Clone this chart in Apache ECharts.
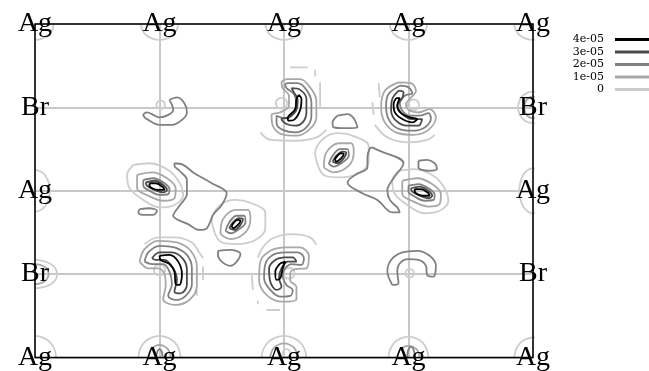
<!DOCTYPE html>
<html><head><meta charset="utf-8">
<script src="https://cdn.jsdelivr.net/npm/echarts@6/dist/echarts.min.js"></script>
<style>html,body{margin:0;padding:0;background:#fff}#c{width:649px;height:371px}</style>
</head><body><div id="c"></div>
<script>
// contour levels (legend order) and their grey tones
const levels = ['4e-05', '3e-05', '2e-05', '1e-05', '0'];
const levelColors = ['#000000', '#4a4a4a', '#808080', '#a8a8a8', '#cdcdcd'];

// atom sites on the lattice grid: [name, x, y]
const atomSites = [
  ['Ag',0,4],['Ag',1,4],['Ag',2,4],['Ag',3,4],['Ag',4,4],
  ['Br',0,3],['Br',4,3],['Ag',0,2],['Ag',4,2],['Br',0,1],['Br',4,1],
  ['Ag',0,0],['Ag',1,0],['Ag',2,0],['Ag',3,0],['Ag',4,0]
];

// unit ring template used for the near-circular contours around atoms
const unitRing = [[1,0],[0.92,0.38],[0.71,0.71],[0.38,0.92],[0,1],[-0.38,0.92],[-0.71,0.71],[-0.92,0.38],[-1,0],[-0.92,-0.38],[-0.71,-0.71],[-0.38,-0.92],[0,-1],[0.38,-0.92],[0.71,-0.71],[0.92,-0.38],[1,0]];
// rings: [cx, cy, rx, ry]
const rings0 = [
  [0,4,.15,.19],[1,4,.15,.19],[2,4,.15,.19],[3,4,.15,.19],[4,4,.15,.19],
  [0,0,.17,.26],[1,0,.17,.26],[2,0,.18,.26],[3,0,.16,.25],[4,0,.15,.24],
  [0,2,.12,.25],[4,2,.11,.27],[0,1,.18,.17],[4,3,.12,.19],
  [1.98,3.05,.045,.065],[3.04,3.03,.045,.065],[1.00,1.05,.045,.065],[2.04,1.01,.045,.065],
  [1.01,3.03,.035,.05],[3.01,1.01,.035,.05],[2.02,0.05,.03,.05]
];
const rings1 = [[1,0,.09,.15],[2,0,.11,.17],[3,0,.09,.14],[0,1,.11,.12],[4,3,.07,.13]];
const rings2 = [[1.0,0,.025,.1],[3.02,0,.03,.13]];

// bond ellipses (E1 copied to E4, E2 copied to E3)
const ellipseA = {
  '0':    [[0.79,2.31],[0.92,2.33],[1.07,2.25],[1.16,2.10],[1.19,1.95],[1.12,1.83],[1.00,1.80],[0.87,1.89],[0.76,2.03],[0.74,2.19],[0.79,2.31]],
  '1e-05':[[0.82,2.19],[0.94,2.22],[1.06,2.15],[1.13,2.03],[1.12,1.91],[1.03,1.88],[0.91,1.94],[0.82,2.03],[0.82,2.19]],
  '2e-05':[[0.87,2.13],[0.95,2.15],[1.04,2.09],[1.08,2.02],[1.07,1.96],[1.00,1.95],[0.92,2.00],[0.87,2.06],[0.87,2.13]],
  '3e-05':[[0.89,2.10],[0.96,2.12],[1.03,2.07],[1.06,2.01],[1.03,1.98],[0.96,2.01],[0.90,2.06],[0.89,2.10]],
  '4e-05':[[0.92,2.09],[0.97,2.09],[1.03,2.04],[1.04,2.01],[0.99,2.01],[0.92,2.06],[0.92,2.09]]
};
const ellipseB = {
  '0':    [[1.45,1.47],[1.42,1.65],[1.49,1.83],[1.61,1.89],[1.74,1.85],[1.85,1.74],[1.85,1.55],[1.77,1.41],[1.62,1.36],[1.50,1.38],[1.45,1.47]],
  '1e-05':[[1.49,1.48],[1.51,1.66],[1.61,1.77],[1.71,1.77],[1.73,1.66],[1.69,1.50],[1.57,1.42],[1.49,1.48]],
  '2e-05':[[1.53,1.52],[1.56,1.62],[1.62,1.70],[1.68,1.70],[1.69,1.62],[1.64,1.54],[1.57,1.49],[1.53,1.52]],
  '3e-05':[[1.56,1.55],[1.59,1.62],[1.64,1.67],[1.67,1.66],[1.65,1.59],[1.60,1.53],[1.56,1.55]],
  '4e-05':[[1.58,1.58],[1.63,1.65],[1.65,1.64],[1.63,1.59],[1.59,1.55],[1.58,1.58]]
};
const ellipseAOffsets = [[0,0],[2.13,-0.07]];
const ellipseBOffsets = [[0,0],[0.83,0.80]];

// kidney-shaped contours near Br sites
const kidney1 = {
  '1e-05':[[2.02,3.34],[2.13,3.34],[2.21,3.24],[2.26,3.08],[2.26,2.88],[2.20,2.73],[2.10,2.66],[1.98,2.68],[1.91,2.78],[1.90,2.91],[1.97,2.94],[2.04,3.02],[2.04,3.14],[1.99,3.23],[1.98,3.30],[2.02,3.34]],
  '2e-05':[[2.02,3.29],[2.11,3.29],[2.18,3.21],[2.22,3.06],[2.22,2.90],[2.18,2.76],[2.09,2.70],[1.99,2.73],[1.94,2.81],[1.94,2.90],[2.01,2.87],[2.07,2.92],[2.10,3.04],[2.08,3.16],[2.02,3.23],[2.01,3.27],[2.02,3.29]],
  '3e-05':[[2.06,3.23],[2.13,3.21],[2.18,3.10],[2.18,2.94],[2.15,2.82],[2.09,2.78],[2.02,2.80],[1.98,2.86],[2.04,2.88],[2.10,2.97],[2.11,3.09],[2.08,3.18],[2.06,3.23]],
  '4e-05':[[2.12,3.15],[2.14,3.10],[2.13,2.97],[2.08,2.85],[2.04,2.84],[2.03,2.87],[2.09,2.98],[2.10,3.10],[2.12,3.15]]
};
const kidney2 = {
  '1e-05':[[2.92,3.30],[3.02,3.29],[3.06,3.20],[3.01,3.10],[2.98,3.04],[3.00,2.97],[3.08,2.94],[3.17,2.98],[3.22,2.88],[3.16,2.73],[3.04,2.67],[2.90,2.70],[2.81,2.82],[2.78,3.00],[2.81,3.20],[2.92,3.30]],
  '2e-05':[[2.93,3.26],[3.00,3.24],[3.03,3.17],[2.97,3.14],[2.93,3.05],[2.95,2.96],[3.01,2.90],[3.09,2.90],[3.16,2.93],[3.18,2.87],[3.13,2.76],[3.03,2.72],[2.91,2.75],[2.84,2.86],[2.82,3.02],[2.84,3.16],[2.93,3.26]],
  '3e-05':[[2.92,3.20],[2.96,3.18],[2.95,3.11],[2.91,3.02],[2.95,2.92],[3.03,2.86],[3.11,2.86],[3.08,2.78],[2.99,2.78],[2.90,2.84],[2.86,2.97],[2.87,3.10],[2.92,3.20]],
  '4e-05':[[2.90,3.11],[2.93,3.11],[2.91,3.02],[2.94,2.93],[3.01,2.88],[3.07,2.86],[3.03,2.82],[2.95,2.86],[2.89,2.94],[2.88,3.04],[2.90,3.11]]
};
const kidney3 = {
  '1e-05':[[0.84,1.15],[0.88,1.30],[0.99,1.40],[1.14,1.38],[1.25,1.28],[1.30,1.09],[1.30,0.86],[1.24,0.69],[1.12,0.63],[1.03,0.70],[1.05,0.87],[1.04,1.00],[0.99,1.07],[0.91,1.07],[0.84,1.15]],
  '2e-05':[[0.88,1.15],[0.91,1.26],[1.00,1.34],[1.12,1.32],[1.22,1.23],[1.26,1.07],[1.26,0.88],[1.21,0.74],[1.13,0.69],[1.07,0.74],[1.10,0.88],[1.08,1.03],[1.03,1.12],[0.94,1.12],[0.88,1.15]],
  '3e-05':[[0.94,1.19],[1.00,1.26],[1.10,1.26],[1.19,1.18],[1.22,1.05],[1.22,0.87],[1.17,0.77],[1.12,0.79],[1.14,0.93],[1.11,1.07],[1.04,1.17],[0.97,1.17],[0.94,1.19]],
  '4e-05':[[1.00,1.22],[1.08,1.23],[1.15,1.15],[1.18,1.00],[1.16,0.87],[1.13,0.88],[1.12,1.03],[1.08,1.12],[1.01,1.17],[1.00,1.22]]
};
const kidney4 = {
  '1e-05':[[2.00,1.32],[2.13,1.32],[2.20,1.22],[2.18,1.07],[2.09,1.06],[2.05,1.01],[2.05,0.92],[2.10,0.85],[2.10,0.70],[1.98,0.67],[1.86,0.75],[1.80,0.93],[1.81,1.15],[1.89,1.28],[2.00,1.32]],
  '2e-05':[[2.01,1.26],[2.11,1.26],[2.16,1.19],[2.14,1.11],[2.06,1.12],[2.01,1.07],[1.99,0.98],[2.02,0.87],[2.07,0.81],[2.05,0.74],[1.97,0.73],[1.89,0.81],[1.84,0.95],[1.85,1.12],[1.91,1.23],[2.01,1.26]],
  '3e-05':[[2.00,1.20],[2.07,1.20],[2.10,1.15],[2.03,1.15],[1.98,1.07],[1.96,0.95],[1.98,0.85],[1.94,0.81],[1.89,0.91],[1.88,1.07],[1.93,1.17],[2.00,1.20]],
  '4e-05':[[1.97,1.13],[2.01,1.15],[1.99,1.07],[1.97,0.95],[1.94,0.93],[1.93,1.03],[1.97,1.13]]
};
const kidneys = [kidney1, kidney2, kidney3, kidney4];

// crescents at Br(1,3) and Br(3,1), quadrilateral and small closed contours
const crescentBr13 = [[1.08,3.09],[1.14,3.12],[1.20,3.05],[1.22,2.94],[1.18,2.85],[1.10,2.79],[1.00,2.79],[0.91,2.85],[0.87,2.91],[0.90,2.94],[0.95,2.91],[1.00,2.88],[1.07,2.91],[1.11,2.97],[1.10,3.03],[1.08,3.09]];
const crescentBr31 = [[2.87,0.87],[2.83,1.03],[2.86,1.17],[2.95,1.26],[3.07,1.28],[3.17,1.22],[3.22,1.10],[3.20,0.97],[3.15,0.99],[3.14,1.10],[3.08,1.17],[3.00,1.18],[2.93,1.13],[2.91,1.03],[2.92,0.89],[2.87,0.87]];
const quadLeft = [[1.12,2.33],[1.19,2.31],[1.28,2.21],[1.42,2.09],[1.54,1.97],[1.50,1.83],[1.43,1.71],[1.38,1.55],[1.32,1.53],[1.23,1.60],[1.11,1.70],[1.16,1.82],[1.22,1.96],[1.22,2.13],[1.16,2.24],[1.12,2.30],[1.12,2.33]];
const quadRight = [[2.71,2.52],[2.75,2.49],[2.96,2.33],[2.87,2.13],[2.83,2.01],[2.85,1.89],[2.91,1.80],[2.93,1.74],[2.87,1.74],[2.75,1.89],[2.63,1.97],[2.51,2.10],[2.57,2.19],[2.67,2.28],[2.67,2.40],[2.69,2.51],[2.71,2.52]];
const blobs = [
  [[2.43,2.90],[2.51,2.92],[2.56,2.87],[2.59,2.76],[2.49,2.75],[2.40,2.76],[2.39,2.82],[2.43,2.90]],
  [[3.08,2.36],[3.15,2.37],[3.21,2.33],[3.23,2.26],[3.16,2.24],[3.08,2.28],[3.08,2.36]],
  [[1.47,1.28],[1.57,1.29],[1.65,1.24],[1.62,1.15],[1.57,1.10],[1.50,1.15],[1.47,1.23],[1.47,1.28]],
  [[0.84,1.78],[0.92,1.79],[0.98,1.76],[0.95,1.71],[0.86,1.71],[0.83,1.74],[0.84,1.78]]
];
// broken zero-level fragments
const zeroFragments = [
  [[1.81,2.70],[1.89,2.61],[2.10,2.60],[2.26,2.64],[2.34,2.73]],
  [[2.05,3.48],[2.19,3.48]], [[2.29,3.30],[2.29,3.00]], [[2.25,3.45],[2.25,3.37]],
  [[2.73,2.79],[2.83,2.64],[3.00,2.58],[3.15,2.61],[3.21,2.67]],
  [[2.76,3.29],[2.77,3.12]], [[2.71,3.06],[2.72,2.91]],
  [[0.88,1.36],[0.99,1.44],[1.12,1.44],[1.26,1.38],[1.32,1.26],[1.35,1.19]],
  [[1.35,1.09],[1.35,0.93]], [[1.30,0.81],[1.30,0.74]],
  [[1.79,1.20],[1.83,1.32],[1.91,1.43],[2.07,1.48],[2.21,1.44],[2.26,1.35]],
  [[1.74,1.01],[1.75,0.81]], [[1.79,0.68],[1.79,0.64]], [[1.86,0.57],[1.97,0.57]]
];

function ringShape(r){ return unitRing.map(p => [r[0] + p[0]*r[2], r[1] + p[1]*r[3]]); }
function shiftShape(s, d){ return s.map(p => [p[0] + d[0], p[1] + d[1]]); }
function joinShapes(shapes){
  const out = [];
  shapes.forEach((s, i) => { if (i) out.push(null); s.forEach(p => out.push(p)); });
  return out;
}
function ellipsesAt(level){
  const list = [];
  if (ellipseA[level]) ellipseAOffsets.forEach(d => list.push(shiftShape(ellipseA[level], d)));
  if (ellipseB[level]) ellipseBOffsets.forEach(d => list.push(shiftShape(ellipseB[level], d)));
  return list;
}
function kidneysAt(level){ return kidneys.filter(k => k[level]).map(k => k[level]); }

const shapesByLevel = {
  '0': [].concat(rings0.map(ringShape), ellipsesAt('0'), zeroFragments),
  '1e-05': [].concat(rings1.map(ringShape), ellipsesAt('1e-05'), kidneysAt('1e-05')),
  '2e-05': [].concat(rings2.map(ringShape), ellipsesAt('2e-05'), kidneysAt('2e-05'), [crescentBr13, crescentBr31, quadLeft, quadRight], blobs),
  '3e-05': [].concat(ellipsesAt('3e-05'), kidneysAt('3e-05')),
  '4e-05': [].concat(ellipsesAt('4e-05'), kidneysAt('4e-05'))
};

const drawOrder = ['0', '1e-05', '2e-05', '3e-05', '4e-05'];
const series = drawOrder.map(lv => {
  const c = levelColors[levels.indexOf(lv)];
  return {
    name: lv, type: 'line', data: joinShapes(shapesByLevel[lv]),
    smooth: 0.35, symbol: 'none', showSymbol: false, connectNulls: false, clip: true,
    color: c, itemStyle: { color: c }, lineStyle: { color: c, width: 1.8 },
    silent: true, animation: false
  };
});
series.push({
  type: 'scatter', name: 'atoms', clip: false, silent: true, animation: false,
  data: atomSites.map(a => [a[1], a[2], a[0]]),
  symbolSize: 1, itemStyle: { color: 'rgba(0,0,0,0)' },
  label: { show: true, position: 'inside', formatter: p => p.data[2], opacity: 1,
           fontFamily: 'Liberation Serif', fontSize: 28, color: '#000' },
  labelLayout: { hideOverlap: false },
  z: 5
});

const chart = echarts.init(document.getElementById('c'), null, { renderer: 'canvas' });
chart.setOption({
  animation: false,
  backgroundColor: '#fff',
  grid: { left: 35, top: 24, right: 116, bottom: 13.5, show: true, borderColor: '#000', borderWidth: 1.5, z: 4 },
  xAxis: { type: 'value', min: 0, max: 4, interval: 1,
    axisLine: { show: false }, axisTick: { show: false }, axisLabel: { show: false },
    splitLine: { show: true, lineStyle: { color: '#c8c8c8', width: 2 } } },
  yAxis: { type: 'value', min: 0, max: 4, interval: 1,
    axisLine: { show: false }, axisTick: { show: false }, axisLabel: { show: false },
    splitLine: { show: true, lineStyle: { color: '#c8c8c8', width: 2 } } },
  legend: { data: levels, orient: 'vertical', align: 'right', right: -16, top: 34, padding: 0,
    itemGap: 1.5, itemWidth: 50, itemHeight: 3, icon: 'rect', selectedMode: false,
    textStyle: { fontFamily: 'DejaVu Serif', fontSize: 11, lineHeight: 11, color: '#000', padding: [0, 6, 0, 0] } },
  series: series
});
</script></body></html>
